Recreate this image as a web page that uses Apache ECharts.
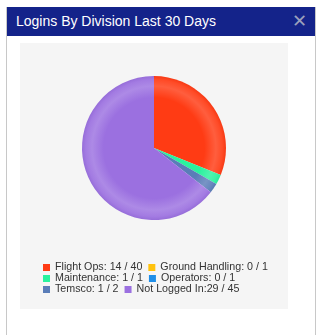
<!DOCTYPE html>
<html>
<head>
<meta charset="utf-8">
<script src="https://cdn.jsdelivr.net/npm/echarts@6/dist/echarts.min.js"></script>
<style>
  html, body { margin:0; padding:0; background:#fff; width:319px; height:335px; overflow:hidden; font-family:Arial, "Liberation Sans", sans-serif; }
  #card { position:absolute; left:6px; top:7px; width:308px; height:340px; border-left:1px solid #c8c8c8; border-right:1px solid #c8c8c8; background:#fff; }
  #hdr { position:absolute; left:0; top:0; width:308px; height:29px; background:#14238a; }
  #ttl { position:absolute; left:9px; top:6px; color:#fff; font-size:14px; }
  #cls { position:absolute; right:8px; top:3px; color:#9aa0bc; font-size:18px; }
  #chart { position:absolute; left:20px; top:43px; width:268px; height:266px; background:#f5f5f5; }
</style>
</head>
<body>
<div id="card"><div id="hdr"><span id="ttl">Logins By Division Last 30 Days</span><span id="cls">✕</span></div></div>
<div id="chart"></div>
<script>
const divisions = ["Flight Ops", "Ground Handling", "Maintenance", "Operators", "Temsco", "Not Logged In"];
const loggedIn = [14, 0, 1, 0, 1, 29];
const totals = [40, 1, 1, 1, 2, 45];
const colors = ["#ff3b14", "#ffc20e", "#2af29e", "#1e8ee8", "#5a7db8", "#9b70e0"];

const cx = 134, cy = 105, R = 72;
function shade(hex, f) {
  const n = parseInt(hex.slice(1), 16);
  let r = (n >> 16) & 255, g = (n >> 8) & 255, b = n & 255;
  if (f > 0) { r += (255 - r) * f; g += (255 - g) * f; b += (255 - b) * f; }
  else { r *= 1 + f; g *= 1 + f; b *= 1 + f; }
  return "rgb(" + Math.round(r) + "," + Math.round(g) + "," + Math.round(b) + ")";
}
function grad(c) {
  return { type: "radial", x: cx, y: cy, r: R, global: true,
    colorStops: [
      { offset: 0, color: c },
      { offset: 0.7, color: c },
      { offset: 0.86, color: shade(c, 0.18) },
      { offset: 0.95, color: shade(c, 0.08) },
      { offset: 1, color: shade(c, -0.03) }
    ] };
}
const names = divisions.map((d, i) => d === "Not Logged In" ? d + ":" + loggedIn[i] + " / " + totals[i] : d + ": " + loggedIn[i] + " / " + totals[i]);
const data = names.map((n, i) => ({ name: n, value: loggedIn[i], itemStyle: { color: grad(colors[i]) } }));

function legendRow(idx, top) {
  return {
    left: 23, top: top, width: 250, orient: "horizontal", itemWidth: 7, itemHeight: 7, itemGap: 6,
    icon: "rect", selectedMode: false, padding: 0,
    data: idx.map(i => ({ name: names[i], itemStyle: { color: colors[i] } })),
    textStyle: { fontSize: 10.7, color: "#333", fontFamily: "Arial, 'Liberation Sans', sans-serif" }
  };
}

const chart = echarts.init(document.getElementById("chart"), null, { renderer: "canvas" });
chart.setOption({
  animation: false,
  legend: [legendRow([0, 1], 219), legendRow([2, 3], 230), legendRow([4, 5], 241)],
  series: [{
    type: "pie", center: [cx, cy], radius: [0, R], startAngle: 90, clockwise: true,
    label: { show: false }, labelLine: { show: false }, emphasis: { disabled: true },
    itemStyle: { borderWidth: 0 },
    data: data
  }]
});
</script>
</body>
</html>
